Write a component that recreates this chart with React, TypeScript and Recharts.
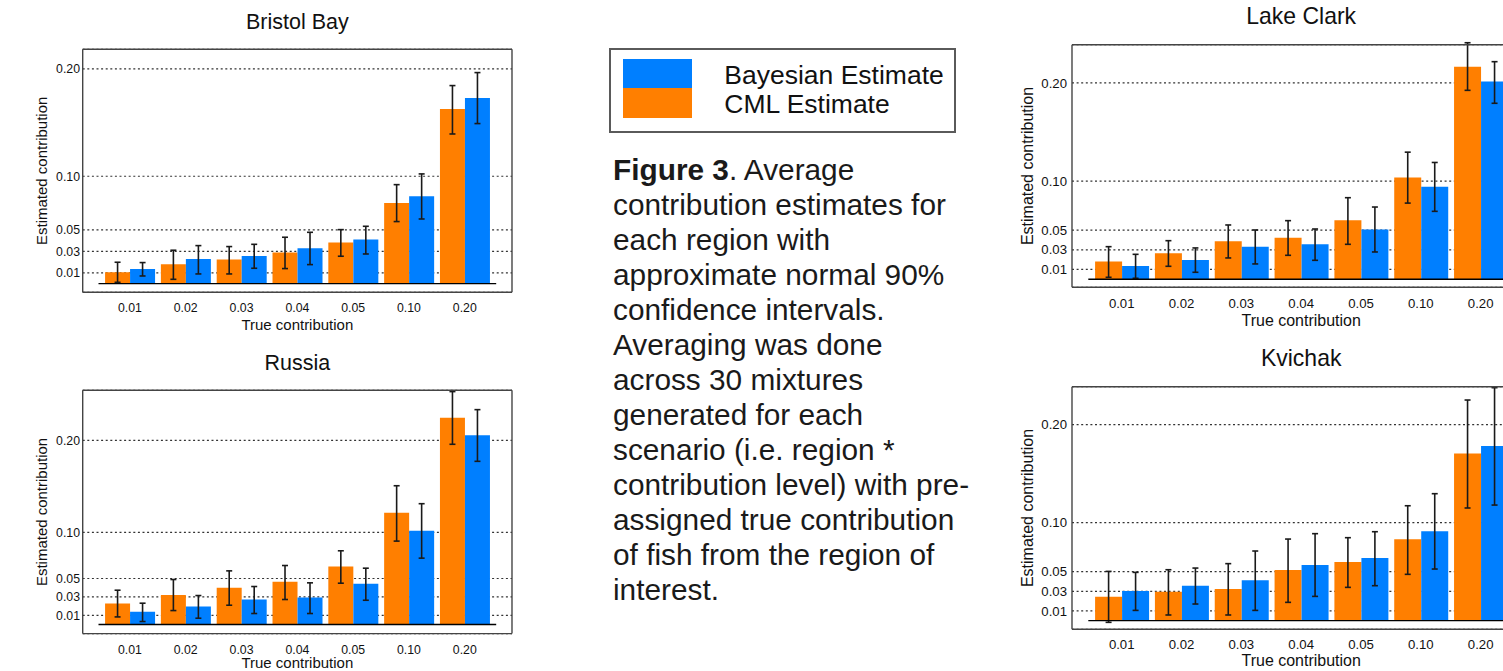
import React from "react";
import {
  BarChart,
  Bar,
  XAxis,
  YAxis,
  CartesianGrid,
  ErrorBar,
  ReferenceLine,
  Label,
} from "recharts";

const categories = ["0.01", "0.02", "0.03", "0.04", "0.05", "0.10", "0.20"];
const yTicks = [0.01, 0.03, 0.05, 0.1, 0.2];

// Bristol Bay
const bristolCml = [0.0106, 0.018, 0.0224, 0.0289, 0.0382, 0.0752, 0.1627];
const bristolCmlLo = [0.0012, 0.004, 0.009, 0.014, 0.0255, 0.0578, 0.1394];
const bristolCmlHi = [0.0199, 0.0311, 0.0345, 0.0432, 0.0503, 0.0922, 0.1845];
const bristolBay = [0.0137, 0.023, 0.0258, 0.0329, 0.041, 0.0814, 0.173];
const bristolBayLo = [0.0071, 0.009, 0.0143, 0.0177, 0.0276, 0.0602, 0.1491];
const bristolBayHi = [0.0196, 0.0354, 0.0366, 0.0478, 0.0534, 0.1022, 0.1966];

// Russia
const russiaCml = [0.0228, 0.0322, 0.0399, 0.0464, 0.063, 0.1214, 0.2246];
const russiaCmlLo = [0.0083, 0.0152, 0.021, 0.0272, 0.0449, 0.0906, 0.1957];
const russiaCmlHi = [0.0373, 0.0489, 0.0583, 0.0641, 0.0801, 0.1507, 0.2529];
const russiaBay = [0.0138, 0.0196, 0.0272, 0.0293, 0.0442, 0.1018, 0.2054];
const russiaBayLo = [0.0033, 0.0069, 0.012, 0.012, 0.0264, 0.0721, 0.1772];
const russiaBayHi = [0.0232, 0.0315, 0.0413, 0.0453, 0.0612, 0.1312, 0.2333];

// Lake Clark
const clarkCml = [0.018, 0.0264, 0.0386, 0.0424, 0.06, 0.1037, 0.2166];
const clarkCmlLo = [0.002, 0.0132, 0.0217, 0.0244, 0.0356, 0.0776, 0.1925];
const clarkCmlHi = [0.0332, 0.0393, 0.0553, 0.0597, 0.0831, 0.1295, 0.241];
const clarkBay = [0.0136, 0.0197, 0.0332, 0.0356, 0.0508, 0.0942, 0.2014];
const clarkBayLo = [0.001, 0.0071, 0.0156, 0.0193, 0.0278, 0.0692, 0.1793];
const clarkBayHi = [0.0254, 0.0319, 0.0502, 0.0512, 0.0736, 0.119, 0.2217];

// Kvichak
const kvichakCml = [0.0245, 0.0296, 0.0323, 0.0517, 0.0599, 0.083, 0.1707];
const kvichakCmlLo = [-0.0017, 0.0058, 0.0058, 0.0187, 0.034, 0.0473, 0.115];
const kvichakCmlHi = [0.0503, 0.052, 0.0582, 0.0833, 0.0847, 0.1173, 0.2252];
const kvichakBay = [0.0303, 0.0357, 0.0412, 0.0568, 0.0639, 0.0912, 0.1782];
const kvichakBayLo = [0.0105, 0.017, 0.0105, 0.0248, 0.0357, 0.0527, 0.118];
const kvichakBayHi = [0.0493, 0.0537, 0.0711, 0.0888, 0.0908, 0.1296, 0.2378];

const ORANGE = "#FF7F00";
const BLUE = "#007FFF";
const FONT = "'Liberation Sans', Arial, sans-serif";

const buildRows = (
  cml: number[],
  cmlLo: number[],
  cmlHi: number[],
  bay: number[],
  bayLo: number[],
  bayHi: number[]
) =>
  categories.map((cat, i) => ({
    cat,
    cml: cml[i],
    cmlErr: [cml[i] - cmlLo[i], cmlHi[i] - cml[i]],
    bay: bay[i],
    bayErr: [bay[i] - bayLo[i], bayHi[i] - bay[i]],
  }));

type PanelProps = {
  title: string;
  rows: any[];
  left: number;
  top: number;
  yAxisW: number;
  topH: number;
  plotW: number;
  plotH: number;
  bottomH: number;
  pad: number;
  domain: [number, number];
  titleSize: number;
  tickSize: number;
  axisSize: number;
  titleOffset: number;
  xTickMargin: number;
  xTitleOffset: number;
  yTitleOffset: number;
  yTickMargin: number;
};

const RegionChart: React.FC<PanelProps> = (p) => {
  const width = p.yAxisW + p.plotW + 2;
  const height = p.topH + p.plotH + p.bottomH;
  const inset = p.pad - 3.5;
  return (
    <div style={{ position: "absolute", left: p.left, top: p.top }}>
      <BarChart
        width={width}
        height={height}
        data={p.rows}
        margin={{ top: 0, right: 1, left: 0, bottom: 0 }}
        barCategoryGap="5.5%"
        barGap={0}
      >
        <CartesianGrid
          vertical={false}
          stroke="#333"
          strokeDasharray="2 2.6"
          strokeWidth={1.2}
        />
        <XAxis
          xAxisId="top"
          orientation="top"
          dataKey="cat"
          height={p.topH}
          tick={false}
          tickLine={false}
          axisLine={{ stroke: "#444", strokeWidth: 1.4 }}
          padding={{ left: p.pad, right: p.pad }}
        >
          <Label
            value={p.title}
            position="insideTop"
            offset={p.titleOffset}
            fill="#111"
            fontSize={p.titleSize}
          />
        </XAxis>
        <XAxis
          dataKey="cat"
          height={p.bottomH}
          interval={0}
          tickLine={false}
          tickSize={0}
          tickMargin={p.xTickMargin}
          tick={{ fill: "#111", fontSize: p.tickSize }}
          axisLine={{ stroke: "#444", strokeWidth: 1.4 }}
          padding={{ left: p.pad, right: p.pad }}
        >
          <Label
            value="True contribution"
            position="insideBottom"
            offset={p.xTitleOffset}
            fill="#111"
            fontSize={p.axisSize}
          />
        </XAxis>
        <YAxis
          type="number"
          width={p.yAxisW}
          domain={p.domain}
          allowDataOverflow
          ticks={yTicks}
          interval={0}
          tickFormatter={(v: number) => v.toFixed(2)}
          tickLine={false}
          tickSize={0}
          tickMargin={p.yTickMargin}
          tick={{ fill: "#111", fontSize: p.tickSize }}
          axisLine={{ stroke: "#444", strokeWidth: 1.4 }}
        >
          <Label
            value="Estimated contribution"
            angle={-90}
            position="insideLeft"
            offset={p.yTitleOffset}
            fill="#111"
            fontSize={p.axisSize}
            style={{ textAnchor: "middle" }}
          />
        </YAxis>
        <YAxis
          yAxisId="right"
          orientation="right"
          type="number"
          width={1}
          domain={[0, 1]}
          tick={false}
          tickLine={false}
          axisLine={{ stroke: "#444", strokeWidth: 1.4 }}
        />
        <Bar dataKey="cml" fill={ORANGE} isAnimationActive={false}>
          <ErrorBar
            dataKey="cmlErr"
            direction="y"
            width={3}
            stroke="#1a1a1a"
            strokeWidth={1.6}
            isAnimationActive={false}
          />
        </Bar>
        <Bar dataKey="bay" fill={BLUE} isAnimationActive={false}>
          <ErrorBar
            dataKey="bayErr"
            direction="y"
            width={3}
            stroke="#1a1a1a"
            strokeWidth={1.6}
            isAnimationActive={false}
          />
        </Bar>
        <ReferenceLine
          y={0}
          shape={(lp: any) => (
            <line
              x1={lp.x1 + inset}
              x2={lp.x2 - inset}
              y1={lp.y1}
              y2={lp.y2}
              stroke="#000"
              strokeWidth={1.4}
            />
          )}
        />
      </BarChart>
    </div>
  );
};

const captionLines = [
  "contribution estimates for",
  "each region with",
  "approximate normal 90%",
  "confidence intervals.",
  "Averaging was done",
  "across 30 mixtures",
  "generated for each",
  "scenario (i.e. region *",
  "contribution level) with pre-",
  "assigned true contribution",
  "of fish from the region of",
  "interest.",
];

const leftCommon = {
  left: 0,
  yAxisW: 82.7,
  topH: 49.3,
  plotW: 429.3,
  bottomH: 45,
  pad: 19.3,
  titleSize: 21.5,
  tickSize: 12.3,
  axisSize: 15,
  yTitleOffset: 41.3,
  yTickMargin: 2.7,
};

const rightCommon = {
  left: 1000,
  yAxisW: 72,
  topH: 44.7,
  plotW: 458.4,
  bottomH: 45,
  pad: 19.8,
  titleSize: 23,
  tickSize: 13.2,
  axisSize: 16,
  yTitleOffset: 27,
  yTickMargin: 5,
};

export default function App() {
  return (
    <div
      style={{
        position: "fixed",
        left: 0,
        top: 0,
        width: 1503,
        height: 671,
        overflow: "hidden",
        background: "#fff",
        fontFamily: FONT,
      }}
    >
      <RegionChart
        {...leftCommon}
        title="Bristol Bay"
        rows={buildRows(bristolCml, bristolCmlLo, bristolCmlHi, bristolBay, bristolBayLo, bristolBayHi)}
        top={0}
        plotH={243}
        domain={[-0.0081, 0.2183]}
        titleOffset={14}
        xTickMargin={11.3}
        xTitleOffset={7.3}
      />
      <RegionChart
        {...leftCommon}
        title="Russia"
        rows={buildRows(russiaCml, russiaCmlLo, russiaCmlHi, russiaBay, russiaBayLo, russiaBayHi)}
        top={341.4}
        plotH={243.3}
        domain={[-0.0098, 0.2543]}
        titleOffset={13.3}
        xTickMargin={11.6}
        xTitleOffset={10.5}
      />
      <RegionChart
        {...rightCommon}
        title="Lake Clark"
        rows={buildRows(clarkCml, clarkCmlLo, clarkCmlHi, clarkBay, clarkBayLo, clarkBayHi)}
        top={0}
        plotH={242.6}
        domain={[-0.0082, 0.239]}
        titleOffset={7.7}
        xTickMargin={11.6}
        xTitleOffset={6.3}
      />
      <RegionChart
        {...rightCommon}
        title="Kvichak"
        rows={buildRows(kvichakCml, kvichakCmlLo, kvichakCmlHi, kvichakBay, kvichakBayLo, kvichakBayHi)}
        top={342}
        plotH={242.6}
        domain={[-0.0088, 0.2388]}
        titleOffset={7.7}
        xTickMargin={10.6}
        xTitleOffset={8.3}
      />

      {/* shared legend */}
      <div
        style={{
          position: "absolute",
          left: 609,
          top: 48,
          width: 347,
          height: 85,
          boxSizing: "border-box",
          border: "2px solid #5a5a5a",
        }}
      />
      <div style={{ position: "absolute", left: 623.3, top: 59.3, width: 68.4, height: 29, background: BLUE }} />
      <div style={{ position: "absolute", left: 623.3, top: 88.3, width: 68.4, height: 29.4, background: ORANGE }} />
      <div
        style={{
          position: "absolute",
          left: 724.3,
          top: 61.3,
          fontSize: 26.5,
          lineHeight: "29px",
          color: "#111",
          whiteSpace: "nowrap",
        }}
      >
        <div>Bayesian Estimate</div>
        <div>CML Estimate</div>
      </div>

      {/* caption */}
      <div
        style={{
          position: "absolute",
          left: 613,
          top: 151.5,
          fontSize: 29.8,
          lineHeight: "35px",
          color: "#1a1a1a",
          whiteSpace: "nowrap",
        }}
      >
        <div>
          <b>Figure 3</b>. Average
        </div>
        {captionLines.map((line) => (
          <div key={line}>{line}</div>
        ))}
      </div>
    </div>
  );
}
